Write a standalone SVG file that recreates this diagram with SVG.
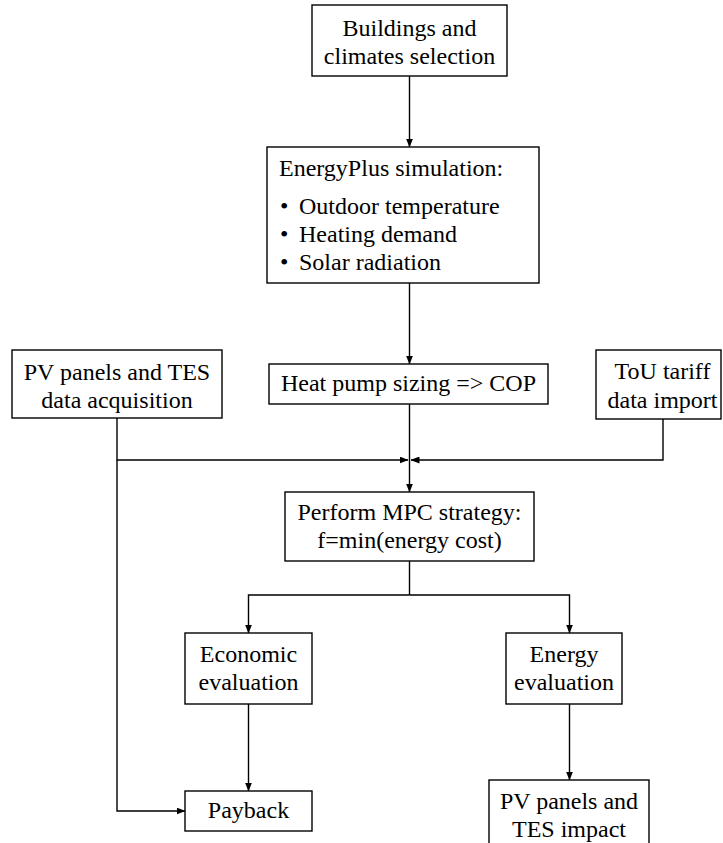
<svg xmlns="http://www.w3.org/2000/svg" width="723" height="843" viewBox="0 0 723 843">
<defs>
<style>
.box{fill:#fff;stroke:#000;stroke-width:1.4}
.ln{fill:none;stroke:#000;stroke-width:1.4}
text{font-family:"Liberation Serif","Times New Roman",serif;font-size:24px;fill:#000}
.c{text-anchor:middle}
</style>
<marker id="ah" markerWidth="9" markerHeight="7" refX="8.5" refY="3.5" orient="auto" markerUnits="userSpaceOnUse">
<path d="M0,0 L9,3.5 L0,7 Z" fill="#000"/>
</marker>
</defs>
<rect width="723" height="843" fill="#fff"/>
<g id="connectors">
<line class="ln" x1="409.5" y1="76" x2="409.5" y2="147" marker-end="url(#ah)"/>
<line class="ln" x1="409.5" y1="283" x2="409.5" y2="364" marker-end="url(#ah)"/>
<line class="ln" x1="409.5" y1="404" x2="409.5" y2="492" marker-end="url(#ah)"/>
<polyline class="ln" points="117,418 117,460 408,460" marker-end="url(#ah)"/>
<polyline class="ln" points="663,419 663,460 411,460" marker-end="url(#ah)"/>
<polyline class="ln" points="117,460 117,811 185,811" marker-end="url(#ah)"/>
<line class="ln" x1="409.5" y1="561" x2="409.5" y2="595"/>
<polyline class="ln" points="409.5,595 248.5,595 248.5,633" marker-end="url(#ah)"/>
<polyline class="ln" points="409.5,595 569.5,595 569.5,633" marker-end="url(#ah)"/>
<line class="ln" x1="248.5" y1="704" x2="248.5" y2="791" marker-end="url(#ah)"/>
<line class="ln" x1="569.5" y1="704" x2="569.5" y2="780" marker-end="url(#ah)"/>
</g>
<g id="buildings">
<rect class="box" x="312" y="5" width="195" height="71"/>
<text class="c" x="409.5" y="36">Buildings and</text>
<text class="c" x="409.5" y="64">climates selection</text>
</g>
<g id="energyplus">
<rect class="box" x="267" y="147" width="272" height="136"/>
<text x="279" y="176">EnergyPlus simulation:</text>
<text x="280" y="214">•</text><text x="299" y="214">Outdoor temperature</text>
<text x="280" y="242">•</text><text x="299" y="242">Heating demand</text>
<text x="280" y="270">•</text><text x="299" y="270">Solar radiation</text>
</g>
<g id="pv-data">
<rect class="box" x="12" y="350" width="210" height="68"/>
<text class="c" x="117" y="380">PV panels and TES</text>
<text class="c" x="117" y="408">data acquisition</text>
</g>
<g id="heatpump">
<rect class="box" x="269" y="364" width="279" height="40"/>
<text class="c" x="408.5" y="391">Heat pump sizing =&gt; COP</text>
</g>
<g id="tou">
<rect class="box" x="596" y="350" width="125" height="69"/>
<text class="c" x="662.5" y="379">ToU tariff</text>
<text class="c" x="662.5" y="408">data import</text>
</g>
<g id="mpc">
<rect class="box" x="285" y="492" width="249" height="69"/>
<text class="c" x="409.5" y="520">Perform MPC strategy:</text>
<text class="c" x="409.5" y="548">f=min(energy cost)</text>
</g>
<g id="economic">
<rect class="box" x="185" y="633" width="127" height="71"/>
<text class="c" x="248.5" y="662">Economic</text>
<text class="c" x="248.5" y="690">evaluation</text>
</g>
<g id="energy">
<rect class="box" x="506" y="633" width="116" height="71"/>
<text class="c" x="564" y="662">Energy</text>
<text class="c" x="564" y="690">evaluation</text>
</g>
<g id="payback">
<rect class="box" x="185" y="791" width="127" height="40"/>
<text class="c" x="248.5" y="818">Payback</text>
</g>
<g id="impact">
<rect class="box" x="489" y="780" width="160" height="80"/>
<text class="c" x="569" y="809">PV panels and</text>
<text class="c" x="569" y="837">TES impact</text>
</g>
</svg>
